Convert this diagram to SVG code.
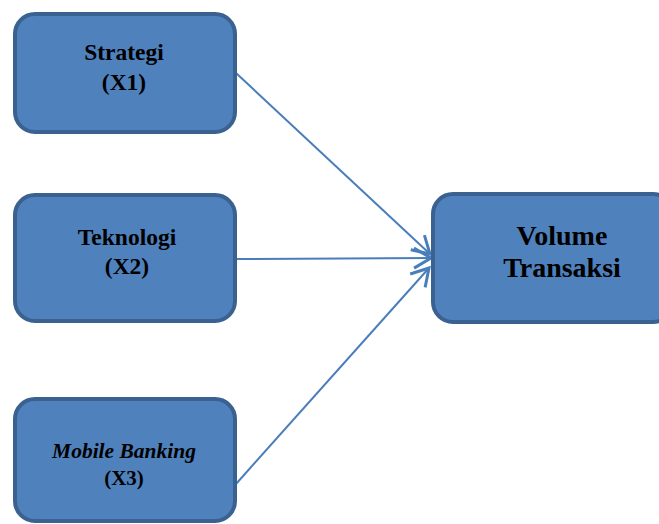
<svg xmlns="http://www.w3.org/2000/svg" width="659" height="524" viewBox="0 0 659 524">
<style>
.box{fill:#4f81bd;stroke:#3a6190;stroke-width:4}
.t{font-family:"Liberation Serif","Times New Roman",serif;font-weight:bold;fill:#000;text-anchor:middle}
.s{font-size:23.5px}
.b{font-size:28px}
.conn{stroke:#4a7ebb;stroke-width:2;fill:none}
</style>
<defs>
<marker id="ah" viewBox="0 0 22 24" refX="19" refY="12" markerWidth="22" markerHeight="24" markerUnits="userSpaceOnUse" orient="auto">
<path d="M2,2 L19,12 L2,22" fill="none" stroke="#4a7ebb" stroke-width="3"/>
</marker>
</defs>
<g id="connectors">
<line class="conn" x1="236" y1="73" x2="430" y2="254" marker-end="url(#ah)"/>
<line class="conn" x1="236" y1="259" x2="431" y2="258" marker-end="url(#ah)"/>
<line class="conn" x1="236" y1="484" x2="429" y2="268" marker-end="url(#ah)"/>
</g>
<g id="strategi">
<rect class="box" x="15" y="14" width="220" height="118" rx="20"/>
<text class="t s" x="124" y="60">Strategi</text>
<text class="t s" x="124" y="90">(X1)</text>
</g>
<g id="teknologi">
<rect class="box" x="15" y="195" width="220" height="126" rx="20"/>
<text class="t s" x="127" y="245">Teknologi</text>
<text class="t s" x="127" y="274">(X2)</text>
</g>
<g id="mobile">
<rect class="box" x="15" y="399" width="220" height="122" rx="20"/>
<text class="t" x="124" y="458" style="font-size:21.5px;font-style:italic">Mobile Banking</text>
<text class="t" x="124" y="485" style="font-size:21px">(X3)</text>
</g>
<g id="volume">
<rect class="box" x="433" y="194" width="240" height="128" rx="20"/>
<text class="t b" x="562" y="245">Volume</text>
<text class="t b" x="562" y="277">Transaksi</text>
</g>
</svg>
